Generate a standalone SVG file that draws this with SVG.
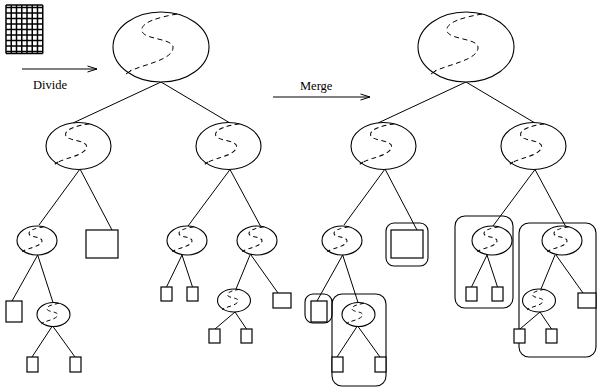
<svg xmlns="http://www.w3.org/2000/svg" xmlns:xlink="http://www.w3.org/1999/xlink" width="597" height="388" viewBox="0 0 597 388">
<style>
.e{fill:#fff;stroke:#000;stroke-width:1.1}
.r{fill:#fff;stroke:#000;stroke-width:1.2}
.b{fill:none;stroke:#000;stroke-width:1.1}
.c line{stroke:#000;stroke-width:1}
.s0{fill:none;stroke:#000;stroke-width:1;stroke-dasharray:5 3.5}
.s1{fill:none;stroke:#000;stroke-width:1.48;stroke-dasharray:7 5}
.s2{fill:none;stroke:#000;stroke-width:2.4;stroke-dasharray:10 8}
.s3{fill:none;stroke:#000;stroke-width:2.94;stroke-dasharray:12 9}
.g line{stroke:#000;stroke-width:1.5}
text{font-family:"Liberation Serif","Times New Roman",serif;font-size:12.5px;fill:#000}
</style>
<defs>
<g id="s">
<path d="M 16 -33 C -1 -30 -21 -25 -19 -16 C -17 -7 13 -9 12 1 C 11 13 -16 17 -31 24"/>
<path d="M -30 23.5 L -35 27" stroke-dasharray="none"/>
</g>
<marker id="ah" markerWidth="12" markerHeight="8" refX="10" refY="4" orient="auto" markerUnits="userSpaceOnUse">
<path d="M0.5 1 L10 4 L0.5 7" fill="none" stroke="#000" stroke-width="1"/>
</marker>
</defs>
<rect width="597" height="388" fill="#fff"/>

<g id="grid-icon" class="g">
<line x1="6" y1="5" x2="6" y2="53.5"/>
<line x1="11.25" y1="5" x2="11.25" y2="53.5"/>
<line x1="16.5" y1="5" x2="16.5" y2="53.5"/>
<line x1="21.75" y1="5" x2="21.75" y2="53.5"/>
<line x1="27" y1="5" x2="27" y2="53.5"/>
<line x1="32.25" y1="5" x2="32.25" y2="53.5"/>
<line x1="37.5" y1="5" x2="37.5" y2="53.5"/>
<line x1="42.75" y1="5" x2="42.75" y2="53.5"/>
<line x1="6" y1="5" x2="42.75" y2="5"/>
<line x1="6" y1="7.4" x2="42.75" y2="7.4"/>
<line x1="6" y1="12.9" x2="42.75" y2="12.9"/>
<line x1="6" y1="18.4" x2="42.75" y2="18.4"/>
<line x1="6" y1="23.9" x2="42.75" y2="23.9"/>
<line x1="6" y1="29.4" x2="42.75" y2="29.4"/>
<line x1="6" y1="34.9" x2="42.75" y2="34.9"/>
<line x1="6" y1="40.4" x2="42.75" y2="40.4"/>
<line x1="6" y1="45.9" x2="42.75" y2="45.9"/>
<line x1="6" y1="51.4" x2="42.75" y2="51.4"/>
<line x1="6" y1="53.5" x2="42.75" y2="53.5"/>
</g>

<g id="divide-label">
<line x1="22" y1="69" x2="97" y2="69" stroke="#000" stroke-width="1" marker-end="url(#ah)"/>
<text x="33" y="89">Divide</text>
</g>
<g id="merge-label">
<line x1="273" y1="97" x2="370" y2="97" stroke="#000" stroke-width="1" marker-end="url(#ah)"/>
<text x="300" y="89.5">Merge</text>
</g>

<g id="connectors" class="c">
<!-- left tree -->
<line x1="161" y1="82" x2="73" y2="123"/>
<line x1="161" y1="82" x2="230" y2="123"/>
<line x1="80" y1="169" x2="39" y2="225"/>
<line x1="80" y1="169" x2="112" y2="230"/>
<line x1="230" y1="169.5" x2="188" y2="226"/>
<line x1="230" y1="169.5" x2="261" y2="227"/>
<line x1="37.7" y1="255" x2="12" y2="301"/>
<line x1="37.7" y1="255" x2="53" y2="302.5"/>
<line x1="52" y1="326.5" x2="32" y2="357"/>
<line x1="53" y1="326.5" x2="75" y2="357"/>
<line x1="182" y1="255" x2="166.5" y2="287"/>
<line x1="182" y1="255" x2="192.5" y2="287"/>
<line x1="250" y1="255" x2="236" y2="289"/>
<line x1="251" y1="255" x2="278" y2="293"/>
<line x1="235" y1="312" x2="215" y2="329"/>
<line x1="235" y1="312" x2="246.5" y2="329"/>
<!-- right tree -->
<line x1="466" y1="82" x2="378" y2="123"/>
<line x1="466" y1="82" x2="535" y2="123"/>
<line x1="385" y1="169" x2="344" y2="225"/>
<line x1="385" y1="169" x2="417" y2="230"/>
<line x1="535" y1="169.5" x2="493" y2="226"/>
<line x1="535" y1="169.5" x2="566" y2="227"/>
<line x1="342.7" y1="255" x2="317" y2="301"/>
<line x1="342.7" y1="255" x2="358" y2="302.5"/>
<line x1="357" y1="326.5" x2="337" y2="357"/>
<line x1="358" y1="326.5" x2="380" y2="357"/>
<line x1="487" y1="255" x2="471.5" y2="287"/>
<line x1="487" y1="255" x2="497.5" y2="287"/>
<line x1="555" y1="255" x2="541" y2="289"/>
<line x1="556" y1="255" x2="583" y2="293"/>
<line x1="540" y1="312" x2="520" y2="329"/>
<line x1="540" y1="312" x2="551.5" y2="329"/>
</g>

<!-- left tree nodes -->
<g id="L0"><ellipse class="e" cx="161" cy="47" rx="48" ry="35"/><use href="#s" class="s0" transform="translate(161 47)"/></g>
<g id="L1"><ellipse class="e" cx="78.5" cy="146" rx="32.5" ry="23.5"/><use href="#s" class="s1" transform="translate(78.5 146) scale(0.677)"/></g>
<g id="L2"><ellipse class="e" cx="228.5" cy="146" rx="32.5" ry="23.5"/><use href="#s" class="s1" transform="translate(228.5 146) scale(0.677)"/></g>
<g id="L3"><ellipse class="e" cx="37" cy="240.5" rx="20" ry="14.5"/><use href="#s" class="s2" transform="translate(37 240.5) scale(0.417)"/></g>
<g id="L4"><ellipse class="e" cx="187" cy="240.5" rx="20" ry="14.5"/><use href="#s" class="s2" transform="translate(187 240.5) scale(0.417)"/></g>
<g id="L5"><ellipse class="e" cx="257" cy="240.5" rx="20" ry="14.5"/><use href="#s" class="s2" transform="translate(257 240.5) scale(0.417)"/></g>
<g id="L6"><ellipse class="e" cx="53.5" cy="314.5" rx="16.5" ry="12"/><use href="#s" class="s3" transform="translate(53.5 314.5) scale(0.34)"/></g>
<g id="L7"><ellipse class="e" cx="234" cy="300.5" rx="16.5" ry="11.5"/><use href="#s" class="s3" transform="translate(234 300.5) scale(0.34)"/></g>
<g id="LR1"><rect class="r" x="86" y="230" width="32" height="28"/></g>
<g id="LR2"><rect class="r" x="6" y="301" width="16" height="21"/></g>
<g id="LR3"><rect class="r" x="27" y="357" width="11" height="15"/></g>
<g id="LR4"><rect class="r" x="70" y="357" width="11" height="15"/></g>
<g id="LR5"><rect class="r" x="161" y="287" width="11" height="14"/></g>
<g id="LR6"><rect class="r" x="187" y="287" width="11" height="14"/></g>
<g id="LR7"><rect class="r" x="273" y="293" width="18" height="15"/></g>
<g id="LR8"><rect class="r" x="209" y="329" width="11" height="14"/></g>
<g id="LR9"><rect class="r" x="241" y="329" width="11" height="14"/></g>

<!-- right tree groupings -->
<g id="B1"><rect class="b" x="386" y="223" width="42" height="43" rx="8"/></g>
<g id="B2"><rect class="b" x="305" y="294" width="27" height="29" rx="8"/></g>
<g id="B3"><rect class="b" x="332" y="294" width="54" height="92" rx="10"/></g>
<g id="B4"><rect class="b" x="455" y="216" width="58" height="92" rx="10"/></g>
<g id="B5"><rect class="b" x="519" y="223" width="77" height="134" rx="10"/></g>

<!-- right tree nodes -->
<g id="R0"><ellipse class="e" cx="466" cy="47" rx="48" ry="35"/><use href="#s" class="s0" transform="translate(466 47)"/></g>
<g id="R1"><ellipse class="e" cx="383.5" cy="146" rx="32.5" ry="23.5"/><use href="#s" class="s1" transform="translate(383.5 146) scale(0.677)"/></g>
<g id="R2"><ellipse class="e" cx="533.5" cy="146" rx="32.5" ry="23.5"/><use href="#s" class="s1" transform="translate(533.5 146) scale(0.677)"/></g>
<g id="R3"><ellipse class="e" cx="342" cy="240.5" rx="20" ry="14.5"/><use href="#s" class="s2" transform="translate(342 240.5) scale(0.417)"/></g>
<g id="R4"><ellipse class="e" cx="492" cy="240.5" rx="20" ry="14.5"/><use href="#s" class="s2" transform="translate(492 240.5) scale(0.417)"/></g>
<g id="R5"><ellipse class="e" cx="562" cy="240.5" rx="20" ry="14.5"/><use href="#s" class="s2" transform="translate(562 240.5) scale(0.417)"/></g>
<g id="R6"><ellipse class="e" cx="358.5" cy="314.5" rx="16.5" ry="12"/><use href="#s" class="s3" transform="translate(358.5 314.5) scale(0.34)"/></g>
<g id="R7"><ellipse class="e" cx="539" cy="300.5" rx="16.5" ry="11.5"/><use href="#s" class="s3" transform="translate(539 300.5) scale(0.34)"/></g>
<g id="RR1"><rect class="r" x="391" y="230" width="32" height="28"/></g>
<g id="RR2"><rect class="r" x="311" y="301" width="16" height="21"/></g>
<g id="RR3"><rect class="r" x="332" y="357" width="11" height="15"/></g>
<g id="RR4"><rect class="r" x="375" y="357" width="11" height="15"/></g>
<g id="RR5"><rect class="r" x="466" y="287" width="11" height="14"/></g>
<g id="RR6"><rect class="r" x="492" y="287" width="11" height="14"/></g>
<g id="RR7"><rect class="r" x="578" y="293" width="18" height="15"/></g>
<g id="RR8"><rect class="r" x="514" y="329" width="11" height="14"/></g>
<g id="RR9"><rect class="r" x="546" y="329" width="11" height="14"/></g>
</svg>
